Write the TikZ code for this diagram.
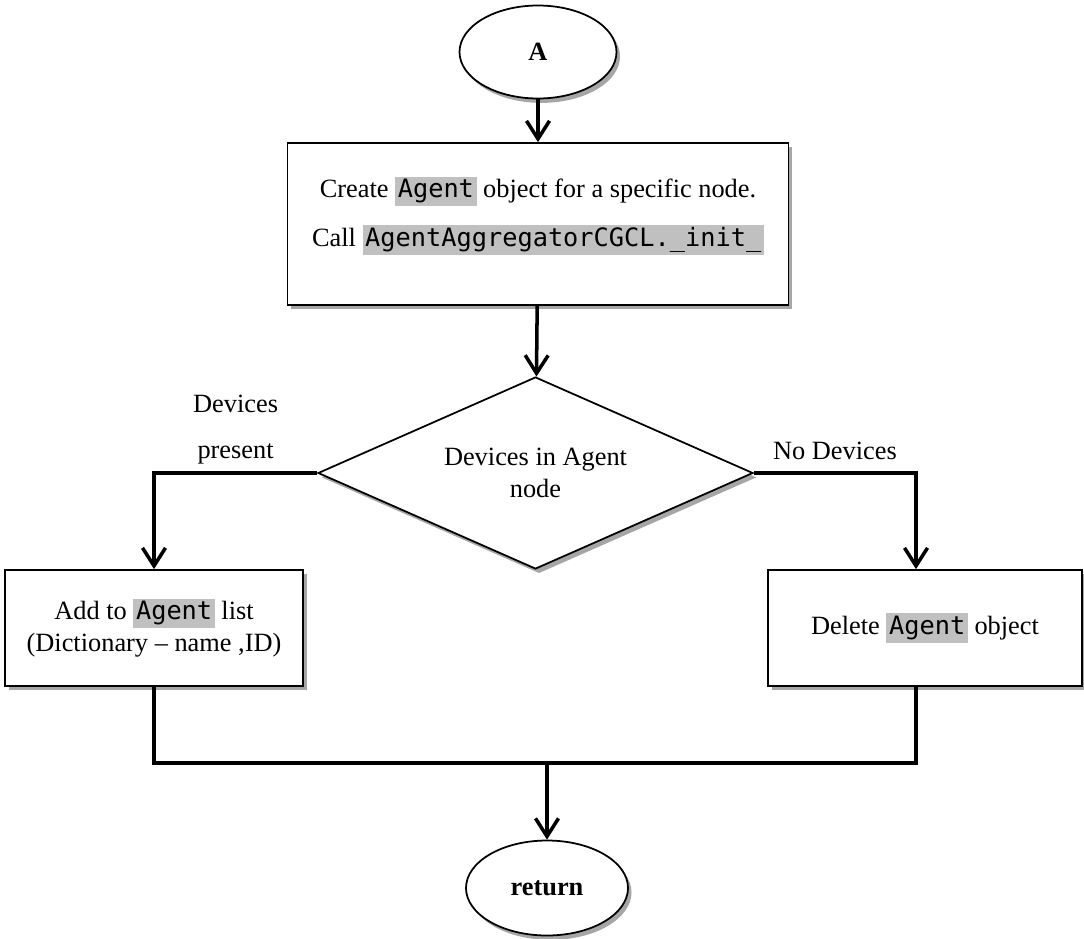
\documentclass[tikz,border=0pt]{standalone}
\usepackage{fontspec}
\setmainfont{Liberation Serif}
\setmonofont[Scale = 0.96]{DejaVu Sans Mono}
\usepackage{tikz}
\usetikzlibrary{shapes.geometric , arrows.meta , shadows}

\definecolor{hlgray}{RGB}{192,192,192}
\newcommand{\hlcode}[1]{{\setlength{\fboxsep}{1.5pt}\colorbox{hlgray}{\ttfamily #1}}}

\begin{document}
\begin{tikzpicture}[
    font = \fontsize{15}{18}\selectfont,
    shade/.style = {drop shadow = {shadow xshift = 2pt , shadow yshift = -2.5pt , opacity = 0.35 , fill = black}},
    terminal/.style = {ellipse , draw , line width = 1pt , fill = white , shade , inner sep = 0pt},
    process/.style = {rectangle , draw , line width = 1pt , fill = white , shade , align = center},
    decision/.style = {diamond , aspect = 2.3 , draw , line width = 1pt , fill = white , shade , align = center , inner sep = 0pt},
    flow/.style = {line width = 2pt , -{Straight Barb[length = 3.6mm , width = 4.6mm , line width = 2pt]}}
]
    \useasboundingbox (0,0) rectangle (21.68,-18.76);

    \node[terminal , minimum width = 3.14cm , minimum height = 1.86cm] (start) at (10.76,-1.04) {\textbf{A}};
    \node[process , minimum width = 10.02cm , minimum height = 3.24cm] (create) at (10.76,-4.48)
        {Create \hlcode{Agent} object for a specific node.\\[10pt] Call \hlcode{AgentAggregatorCGCL.\_init\_}\\[-4pt]\mbox{}};
    \node[decision , minimum width = 8.7cm , minimum height = 3.84cm] (check) at (10.71,-9.46)
        {Devices in Agent\\node};
    \node[process , minimum width = 5.96cm , minimum height = 2.32cm] (addlist) at (3.08,-12.56)
        {Add to \hlcode{Agent} list\\(Dictionary -- name ,ID)};
    \node[process , minimum width = 6.28cm , minimum height = 2.32cm] (delete) at (18.5,-12.56)
        {Delete \hlcode{Agent} object};
    \node[terminal , minimum width = 3.24cm , minimum height = 1.9cm] (ret) at (10.94,-17.76) {\textbf{return}};
    \coordinate (join) at (10.94,-15.26); % Σημείο ένωσης

    \draw[flow] (start) -- (create);
    \draw[flow] (create) -- (check);
    \draw[flow] (check.west) -| node[pos = 0.25 , above = 1pt , align = center]{Devices\\[8pt]present} (addlist.north);
    \draw[flow] (check.east) -| node[pos = 0.25 , above = 3pt]{No Devices} ([xshift = -0.18cm]delete.north);
    \draw[line width = 2pt] (addlist.south) |- (join) -| ([xshift = -0.18cm]delete.south);
    \draw[flow] (join) -- (ret);
\end{tikzpicture}
\end{document}
